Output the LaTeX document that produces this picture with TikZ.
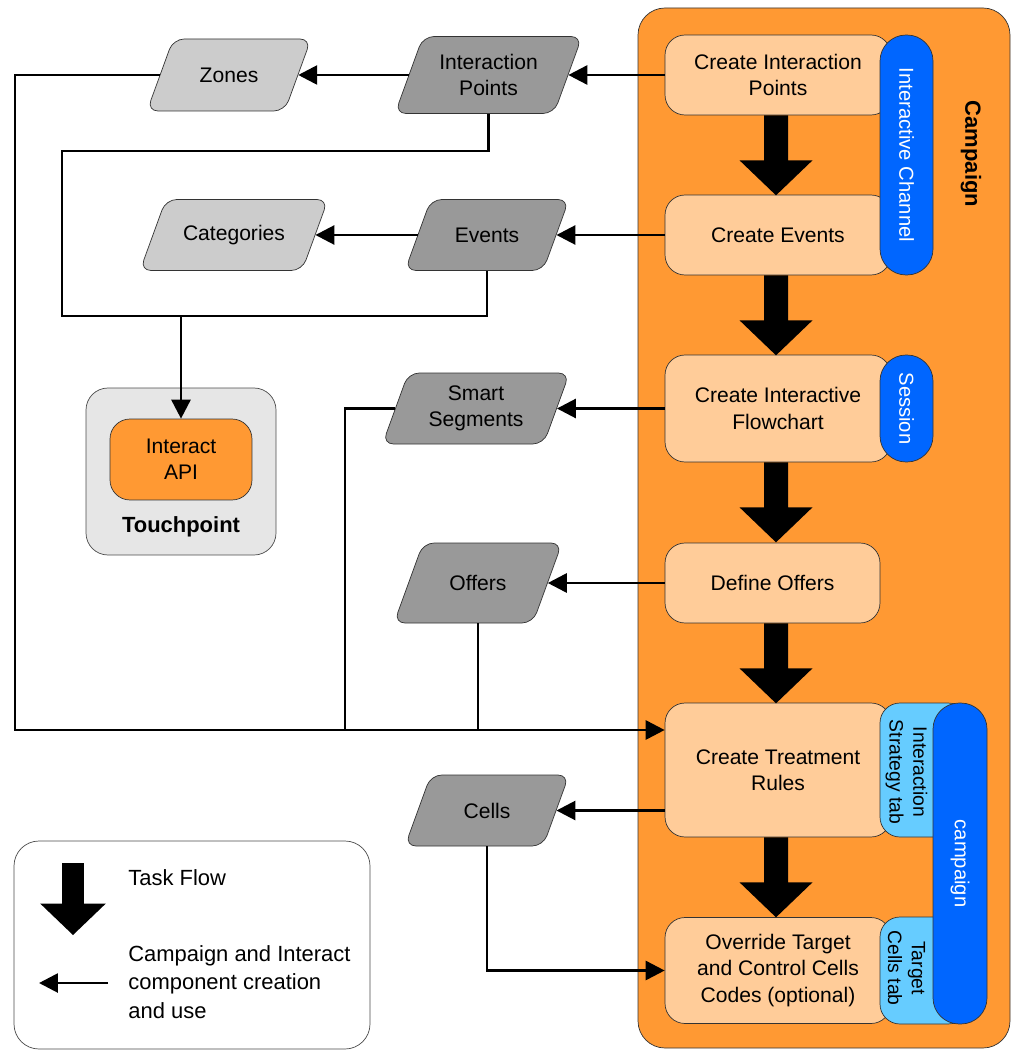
\documentclass[tikz,border=0pt]{standalone}
\usepackage{fontspec}
\setmainfont{Liberation Sans}
\usetikzlibrary{arrows.meta}

\definecolor{campOrange}{HTML}{FF9933}
\definecolor{taskPeach}{HTML}{FFCC99}
\definecolor{chanBlue}{HTML}{0066FF}
\definecolor{tabBlue}{HTML}{66CCFF}
\definecolor{compGray}{HTML}{999999}
\definecolor{subGray}{HTML}{CCCCCC}
\definecolor{touchGray}{HTML}{E6E6E6}

\tikzset{
	task/.style={draw=black!80, fill=taskPeach, rounded corners=0.4cm, minimum width=4.52cm, minimum height=1.6cm, inner sep=0pt, align=center, font=\fontsize{12}{15}\selectfont},
	pill/.style={draw=black!80, fill=chanBlue, text=white, rotate=-90, rounded corners=0.52cm, minimum height=1.06cm, inner sep=0pt, font=\fontsize{11.5}{14}\selectfont},
	tabtext/.style={rotate=-90, inner sep=0pt, align=center, font=\fontsize{11}{13.5}\selectfont},
	comp/.style={draw=black!80, fill=compGray, rounded corners=0.22cm},
	sub/.style={comp, fill=subGray},
	comptext/.style={inner sep=0pt, align=center, font=\fontsize{12}{15}\selectfont},
	link/.style={line width=1.6pt, -{Triangle[length=0.38cm,width=0.38cm]}},
	wire/.style={line width=1.6pt},
	taskflow/.pic={
		\fill (-12,0) -- (12,0) -- (12,45) -- (36.5,45) -- (0,80) -- (-36.5,45) -- (-12,45) -- cycle;
	},
}

% component: name, style, x, y, width, height, text (pixel units)
\newcommand{\compshape}[7]{%
	\filldraw[#2] ({#3-#5/2},{#4+#6/2}) -- ({#3-#5/2+0.364*#6},{#4-#6/2})
		-- ({#3+#5/2},{#4-#6/2}) -- ({#3+#5/2-0.364*#6},{#4+#6/2}) -- cycle;
	\node[comptext, minimum width={(#5-0.364*#6)*0.02cm}, minimum height={#6*0.02cm}] (#1) at (#3,#4) {#7};
}

\begin{document}
\begin{tikzpicture}[x=0.02cm, y=-0.02cm]
	\useasboundingbox (0,0) rectangle (1011,1050);

	% campaign area
	\filldraw[draw=black!80, fill=campOrange, rounded corners=0.54cm] (638,8) rectangle (1010,1048);
	\node[rotate=-90, inner sep=0pt, font=\bfseries\fontsize{12.5}{15}\selectfont] (camp) at (971,154) {Campaign};

	% tasks
	\node[task] (cip) at (778,75) {Create Interaction\\Points};
	\node[task] (cev) at (778,235) {Create Events};
	\node[task, minimum height=2.14cm] (cfc) at (778,408.5) {Create Interactive\\Flowchart};
	\node[task, minimum width=4.3cm] (dof) at (772.5,583) {Define Offers};
	\node[task, minimum height=2.68cm] (ctr) at (778,770) {Create Treatment\\Rules};
	\node[task, minimum height=2.12cm] (oco) at (778,970.5) {Override Target\\and Control Cells\\Codes (optional)};

	\node[pill, minimum width=4.8cm] (ich) at (906.5,155) {Interactive Channel};
	\node[pill, minimum width=2.14cm] (ses) at (906.5,408.5) {Session};

	\filldraw[draw=black!80, fill=tabBlue, rounded corners=0.4cm] (880,703) rectangle (968,837);
	\filldraw[draw=black!80, fill=tabBlue, rounded corners=0.4cm] (880,917) rectangle (968,1024);
	\node[tabtext] (ist) at (906.5,772) {Interaction\\Strategy tab};
	\node[tabtext] (tct) at (906.5,968) {Target\\Cells tab};
	\node[pill, minimum width=6.42cm, minimum height=1.08cm] (cpg) at (960,863.5) {campaign};

	\coordinate (axis) at (776,0);
	\foreach \t in {cip,cev,cfc,dof,ctr}
		\pic at (axis |- \t.south) {taskflow};

	% components
	\compshape{ip}{comp}{488.5}{75}{187}{77}{Interaction\\Points}
	\compshape{zon}{sub}{229}{75}{164}{72}{Zones}
	\compshape{ev}{comp}{487}{235}{164}{71}{Events}
	\compshape{cat}{sub}{234}{235}{188}{71}{Categories}
	\compshape{ss}{comp}{476}{408.5}{187}{71}{Smart\\Segments}
	\compshape{of}{comp}{478}{583}{168}{80}{Offers}
	\compshape{cel}{comp}{487}{810.5}{164}{71}{Cells}

	% touchpoint
	\filldraw[draw=black!70, fill=touchGray, rounded corners=0.44cm] (86,388) rectangle (276,555);
	\node[draw=black!80, fill=campOrange, rounded corners=0.4cm, minimum width=2.84cm, minimum height=1.62cm, inner sep=0pt, align=center, font=\fontsize{12}{15}\selectfont] (api) at (181,459.5) {Interact\\API};
	\node[inner sep=0pt, font=\bfseries\fontsize{12.5}{15}\selectfont] (tpl) at (181,527) {Touchpoint};

	% connectors
	\coordinate (busL) at (15,730);
	\draw[link] (cip.west) -- (ip.east);
	\draw[link] (ip.west) -- (zon.east);
	\draw[link] (zon.west) -| (busL) -- (ctr.west |- busL);
	\draw[wire] (ip.south) |- (62,151) -- (62,316) -| (ev.south);
	\draw[link] (api.north |- 0,316) -- (api.north);
	\draw[link] (cev.west) -- (ev.east);
	\draw[link] (ev.west) -- (cat.east);
	\draw[link] (cfc.west) -- (ss.east);
	\draw[wire] (ss.west) -| (345,730);
	\draw[link] (dof.west) -- (of.east);
	\draw[wire] (of.south) -- (of.south |- busL);
	\draw[link] (ctr.west |- cel.east) -- (cel.east);
	\draw[link] (cel.south) |- (oco.west);

	% legend
	\filldraw[draw=black!70, fill=white, rounded corners=0.5cm] (14,841) rectangle (370,1049);
	\pic[scale=0.9] at (73,863) {taskflow};
	\coordinate (lgs) at (108,983);
	\coordinate (lge) at (39,983);
	\draw[link] (lgs) -- (lge);
	\node[anchor=west, inner sep=0pt, font=\fontsize{12.5}{16}\selectfont] (lgtf) at (128,878) {Task Flow};
	\node[anchor=west, inner sep=0pt, align=left, font=\fontsize{12.5}{16.2}\selectfont] (lgci) at (128,982) {Campaign and Interact\\component creation\\and use};
\end{tikzpicture}
\end{document}
